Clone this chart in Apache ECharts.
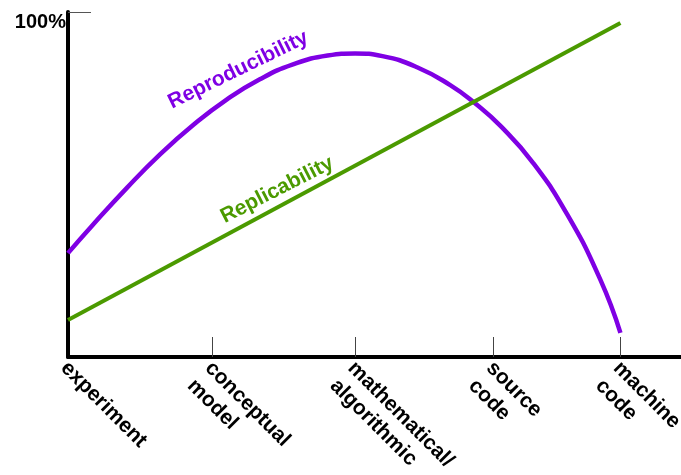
<!DOCTYPE html>
<html>
<head>
<meta charset="utf-8">
<script src="https://cdn.jsdelivr.net/npm/echarts@6/dist/echarts.min.js"></script>
<style>
  html, body { margin: 0; padding: 0; background: #fff; }
  #chart { width: 681px; height: 475px; }
</style>
</head>
<body>
<div id="chart"></div>
<script>
// stages along the x axis (positions, in "stage" units)
var stages = ["experiment", "conceptual\nmodel", "mathematical/\nalgorithmic", "source\ncode", "machine\ncode"];
var stagePos = [0, 1, 1.99, 2.95, 3.83];

// reproducibility curve, [x, percent]
var reproX = [0, 0.17, 0.41, 0.64, 0.87, 1.10, 1.33, 1.56, 1.80, 1.99, 2.18, 2.42, 2.65, 2.82, 3.00, 3.22, 3.46, 3.69, 3.83];
var reproY = [30.1, 38.2, 49.1, 58.8, 67.3, 74.6, 80.5, 84.8, 87.4, 88.0, 87.2, 84.0, 78.8, 73.6, 66.9, 56.5, 41.4, 22.5, 7.0];

// replicability straight line
var replX = [0, 3.83];
var replY = [10.7, 96.8];

var yTicks = [100];

var purple = "#7f00e4";
var green = "#4b9a00";
var font = "'Liberation Sans', Arial, Helvetica, sans-serif";

function zip(xs, ys) {
  var out = [];
  for (var i = 0; i < xs.length; i++) out.push([xs[i], ys[i]]);
  return out;
}

var myChart = echarts.init(document.getElementById("chart"));

var option = {
  animation: false,
  grid: { left: 68, right: 0, top: 12, bottom: 118, outerBoundsMode: "none", containLabel: false },
  xAxis: {
    type: "value",
    min: 0,
    max: 4.25,
    splitLine: { show: false },
    axisLine: { lineStyle: { color: "#000", width: 4 } },
    axisTick: {
      show: true,
      inside: true,
      length: 20,
      customValues: stagePos.slice(1),
      lineStyle: { color: "#444", width: 1 }
    },
    axisLabel: {
      customValues: stagePos,
      rotate: -45,
      align: "left",
      verticalAlign: "top",
      margin: 4,
      padding: [-7, 0, 0, 0],
      color: "#000",
      fontFamily: font,
      fontWeight: "bold",
      fontSize: 21,
      lineHeight: 25,
      formatter: function (v) {
        for (var i = 0; i < stagePos.length; i++) {
          if (Math.abs(stagePos[i] - v) < 1e-6) return stages[i];
        }
        return "";
      }
    }
  },
  yAxis: {
    type: "value",
    min: 0,
    max: 100,
    splitLine: { show: false },
    axisLine: { show: true, lineStyle: { color: "#000", width: 4 } },
    axisTick: {
      show: true,
      inside: true,
      length: 23,
      customValues: yTicks,
      lineStyle: { color: "#555", width: 1 }
    },
    axisLabel: {
      customValues: yTicks,
      verticalAlign: "top",
      margin: 2,
      color: "#000",
      fontFamily: font,
      fontWeight: "bold",
      fontSize: 20,
      formatter: "{value}%"
    }
  },
  series: [
    {
      name: "Reproducibility",
      type: "line",
      data: zip(reproX, reproY),
      smooth: 0.5,
      showSymbol: false,
      lineStyle: { color: purple, width: 4.5 },
      markPoint: {
        silent: true,
        symbol: "circle",
        symbolSize: 0,
        label: {
          show: true,
          position: "inside",
          rotate: 26,
          color: purple,
          fontFamily: font,
          fontWeight: "bold",
          fontSize: 21
        },
        data: [{ coord: [1.18, 83.2], value: "Reproducibility", label: { formatter: "Reproducibility" } }]
      }
    },
    {
      name: "Replicability",
      type: "line",
      data: zip(replX, replY),
      showSymbol: false,
      lineStyle: { color: green, width: 4 },
      markPoint: {
        silent: true,
        symbol: "circle",
        symbolSize: 0,
        label: {
          show: true,
          position: "inside",
          rotate: 27,
          color: green,
          fontFamily: font,
          fontWeight: "bold",
          fontSize: 21
        },
        data: [{ coord: [1.45, 48.4], value: "Replicability", label: { formatter: "Replicability" } }]
      }
    }
  ]
};

myChart.setOption(option);
</script>
</body>
</html>
